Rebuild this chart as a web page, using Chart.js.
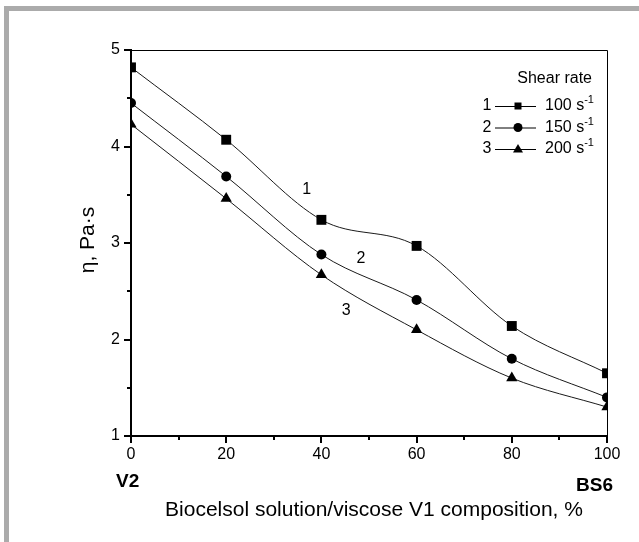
<!DOCTYPE html>
<html>
<head>
<meta charset="utf-8">
<title>Viscosity vs composition</title>
<script src="https://cdn.jsdelivr.net/npm/chart.js@4/dist/chart.umd.min.js"></script>
<style>
  html, body { margin: 0; padding: 0; background: #fff; }
  #wrap { position: relative; width: 639px; height: 542px; overflow: hidden; }
  #frame {
    position: absolute; left: 4px; top: 6px; right: -10px; bottom: -10px;
    border-left: 5px solid #ababab; border-top: 5px solid #ababab;
  }
  canvas { position: absolute; left: 0; top: 0; }
</style>
</head>
<body>
<div id="wrap">
  <div id="frame"></div>
  <canvas id="viscChart" width="639" height="542"></canvas>
</div>
<script>
// composition, % of Biocelsol solution in the blend
const composition = [0, 20, 40, 60, 80, 100];

// dynamic viscosity, Pa·s, at three shear rates
const eta100 = [4.82, 4.07, 3.24, 2.97, 2.14, 1.65];
const eta150 = [4.45, 3.69, 2.88, 2.41, 1.80, 1.40];
const eta200 = [4.23, 3.46, 2.67, 2.10, 1.60, 1.30];

const seriesNames = ['1', '2', '3'];
const shearRates = ['100', '150', '200'];

const xTicks = [0, 20, 40, 60, 80, 100];
const xMinor = [10, 30, 50, 70, 90];
const yTicks = [1, 2, 3, 4, 5];
const yMinor = [1.5, 2.5, 3.5, 4.5];

// where the curve numbers sit, in data units
const curveLabels = [
  { text: '1', x: 36.9, y: 3.55 },
  { text: '2', x: 48.3, y: 2.84 },
  { text: '3', x: 45.2, y: 2.30 }
];

const FONT = "'Liberation Sans', Arial, sans-serif";
Chart.defaults.font.family = FONT;
Chart.defaults.color = '#000';

const pointStyles = ['rect', 'circle', 'triangle'];
const pointSizes = [7, 5, 6.5];

function toPoints(vals) {
  return composition.map((c, i) => ({ x: c, y: vals[i] }));
}

const datasets = [eta100, eta150, eta200].map((vals, i) => ({
  label: seriesNames[i],
  data: toPoints(vals),
  borderColor: '#1a1a1a',
  borderWidth: 1,
  backgroundColor: '#000',
  pointStyle: pointStyles[i],
  pointRadius: pointSizes[i],
  pointBorderWidth: 0,
  pointBackgroundColor: '#000',
  cubicInterpolationMode: 'monotone',
  fill: false
}));

function drawMarker(ctx, style, cx, cy) {
  ctx.beginPath();
  if (style === 'rect') {
    ctx.rect(cx - 3.5, cy - 3.5, 7, 7);
  } else if (style === 'circle') {
    ctx.arc(cx, cy, 4.5, 0, Math.PI * 2);
  } else {
    ctx.moveTo(cx, cy - 5);
    ctx.lineTo(cx + 5, cy + 3.5);
    ctx.lineTo(cx - 5, cy + 3.5);
    ctx.closePath();
  }
  ctx.fill();
}

const decorations = {
  id: 'decorations',
  afterDraw(chart) {
    const { ctx, chartArea: a, scales: { x, y } } = chart;
    ctx.save();
    ctx.strokeStyle = '#000';
    ctx.fillStyle = '#000';

    // thin top and right edges of the plot box
    ctx.lineWidth = 1;
    ctx.beginPath();
    ctx.moveTo(a.left, Math.round(a.top) + 0.5);
    ctx.lineTo(Math.round(a.right) + 0.5, Math.round(a.top) + 0.5);
    ctx.lineTo(Math.round(a.right) + 0.5, a.bottom);
    ctx.stroke();

    // outward tick marks, major and minor
    ctx.lineWidth = 2;
    ctx.beginPath();
    xTicks.forEach(v => {
      const px = Math.round(x.getPixelForValue(v));
      ctx.moveTo(px, a.bottom); ctx.lineTo(px, a.bottom + 7);
    });
    xMinor.forEach(v => {
      const px = Math.round(x.getPixelForValue(v));
      ctx.moveTo(px, a.bottom); ctx.lineTo(px, a.bottom + 4);
    });
    yTicks.forEach(v => {
      const py = Math.round(y.getPixelForValue(v));
      ctx.moveTo(a.left, py); ctx.lineTo(a.left - 7, py);
    });
    yMinor.forEach(v => {
      const py = Math.round(y.getPixelForValue(v));
      ctx.moveTo(a.left, py); ctx.lineTo(a.left - 4, py);
    });
    ctx.stroke();

    // curve numbers
    ctx.font = '16px ' + FONT;
    ctx.textAlign = 'center';
    ctx.textBaseline = 'middle';
    curveLabels.forEach(l => {
      ctx.fillText(l.text, x.getPixelForValue(l.x), y.getPixelForValue(l.y));
    });

    // legend block
    ctx.textAlign = 'right';
    ctx.fillText('Shear rate', 592, 79);
    shearRates.forEach((rate, i) => {
      const ry = 106 + i * 21.5;
      ctx.font = '16px ' + FONT;
      ctx.textAlign = 'center';
      ctx.fillText(seriesNames[i], 487, ry);
      ctx.lineWidth = 1;
      ctx.beginPath();
      ctx.moveTo(495, ry + 0.5); ctx.lineTo(536, ry + 0.5);
      ctx.stroke();
      drawMarker(ctx, pointStyles[i], 518, ry);
      ctx.textAlign = 'left';
      const txt = rate + ' s';
      ctx.fillText(txt, 545, ry);
      const w = ctx.measureText(txt).width;
      ctx.font = '11px ' + FONT;
      ctx.fillText('-1', 545 + w, ry - 6);
    });

    // axis titles and end-member names
    ctx.font = '21px ' + FONT;
    ctx.textAlign = 'center';
    ctx.fillText('Biocelsol solution/viscose V1 composition, %', 374, 510);
    ctx.save();
    ctx.translate(88, 240);
    ctx.rotate(-Math.PI / 2);
    ctx.fillText('η, Pa·s', 0, 0);
    ctx.restore();

    ctx.font = 'bold 19px ' + FONT;
    ctx.textAlign = 'left';
    ctx.fillText('V2', 116, 482);
    ctx.textAlign = 'right';
    ctx.fillText('BS6', 613, 486);
    ctx.restore();
  }
};

new Chart(document.getElementById('viscChart'), {
  type: 'line',
  data: { datasets },
  options: {
    responsive: false,
    animation: false,
    layout: { padding: { top: 50, right: 32, left: 0, bottom: 0 } },
    plugins: {
      legend: { display: false },
      tooltip: { enabled: false }
    },
    scales: {
      x: {
        type: 'linear',
        min: 0,
        max: 100,
        afterBuildTicks: s => { s.ticks = xTicks.map(v => ({ value: v })); },
        afterFit: s => { s.height = 106; },
        grid: { display: false, drawTicks: false },
        border: { display: true, width: 2, color: '#000' },
        ticks: { padding: 9, font: { size: 16 }, color: '#000', maxRotation: 0 }
      },
      y: {
        type: 'linear',
        min: 1,
        max: 5,
        afterBuildTicks: s => { s.ticks = yTicks.map(v => ({ value: v })); },
        afterFit: s => { s.width = 131; },
        grid: { display: false, drawTicks: false },
        border: { display: true, width: 2, color: '#000' },
        ticks: { padding: 11, font: { size: 16 }, color: '#000' }
      }
    }
  },
  plugins: [decorations]
});
</script>
</body>
</html>
